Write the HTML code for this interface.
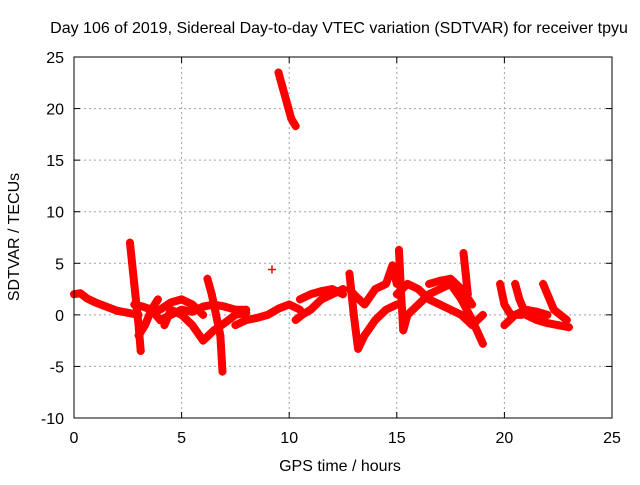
<!DOCTYPE html>
<html><head><meta charset="utf-8"><style>
body{margin:0;background:#fff;}
svg text{font-family:"Liberation Sans",sans-serif;font-size:16px;fill:#000;}
</style></head><body>
<svg id="chart" width="640" height="480">
<text x="339" y="33" text-anchor="middle">Day 106 of 2019, Sidereal Day-to-day VTEC variation (SDTVAR) for receiver tpyu</text>
<text x="340" y="471" text-anchor="middle">GPS time / hours</text>
<text transform="translate(19,237) rotate(-90)" text-anchor="middle">SDTVAR / TECUs</text>
<g id="grid"></g><g id="marks"></g><g id="axes"></g>
</svg>
<script>
const xTicks=[0,5,10,15,20,25];
const yTicks=[-10,-5,0,5,10,15,20,25];
const tracks=[
[[0,2],[0.3,2.1],[0.6,1.6],[1,1.2],[1.5,0.8],[2,0.4],[2.5,0.2],[3,0]],
[[2.6,7],[2.7,5],[2.8,3],[2.9,1],[3,-1],[3.1,-3.5]],
[[3,-2],[3.3,-1],[3.6,0.5],[3.9,1.5]],
[[2.8,1],[3.2,0.8],[3.6,0.5],[4,-0.5],[4.5,0],[5,0.5],[5.5,0.3],[6,0.8],[6.5,1],[7,0.8],[7.5,0.5],[8,0.5]],
[[4.2,-1],[4.5,0.5],[5,0],[5.5,-1],[6,-2.5],[6.5,-1.5],[7,-0.8],[7.5,0],[8,0.2]],
[[6.2,3.5],[6.4,2],[6.6,0],[6.8,-2],[6.9,-5.5]],
[[4,0.5],[4.5,1.2],[5,1.5],[5.5,1],[6,0]],
[[7.5,-1],[8,-0.5],[8.5,-0.3],[9,0],[9.5,0.6],[10,1],[10.5,0.5]],
[[9.5,23.5],[9.7,22],[9.9,20.5],[10.1,19],[10.3,18.3]],
[[9.2,4.4]],
[[10.3,-0.5],[10.6,0],[11,0.5],[11.5,1.5],[12,2],[12.5,2.5]],
[[10.5,1.5],[11,2],[11.5,2.3],[12,2.5],[12.5,2]],
[[12.8,4],[13,0],[13.2,-3.3],[13.5,-2],[14,-0.5],[14.5,0.5],[15,1]],
[[12.8,2.5],[13,2],[13.5,1],[14,2.5],[14.5,3],[14.8,4.8],[15,3]],
[[15.1,6.3],[15.2,2],[15.3,-1.5],[15.5,0],[16,1],[16.5,2],[17,2.5],[17.5,3],[18,1.5],[18.5,-0.5],[19,-2.8]],
[[15,2],[15.5,3],[16,2.5],[16.5,1.5],[17,1],[17.5,0.5],[18,0],[18.5,-1],[19,0]],
[[16.5,3],[17,3.3],[17.5,3.5],[18,2.5],[18.5,1]],
[[18.1,6],[18.2,4],[18.3,2]],
[[19.8,3],[20,1],[20.3,0],[20.8,0]],
[[20.5,3],[20.7,1.5],[21,0],[21.5,-0.5],[22,-0.8],[22.5,-1],[23,-1.2]],
[[21.8,3],[22,2],[22.3,0.5],[22.6,0],[22.9,-0.5]],
[[20,-1],[20.5,0],[21,0.5],[21.5,0.3],[22,0]]
];
const X0=74,X1=612,Y0=418,Y1=57;
const sx=v=>X0+(v-0)/(25-0)*(X1-X0);
const sy=v=>Y0-(v+10)/(35)*(Y0-Y1);
const NS="http://www.w3.org/2000/svg";
function mk(t,a,p){const e=document.createElementNS(NS,t);for(const k in a)e.setAttribute(k,a[k]);p.appendChild(e);return e;}
const grid=document.getElementById('grid'),axes=document.getElementById('axes'),marks=document.getElementById('marks');
xTicks.forEach(t=>{const x=sx(t);
 if(t>0&&t<25){const l=mk('line',{x1:x,x2:x,y1:Y1,y2:Y0,stroke:'#a0a0a0','stroke-dasharray':'2,3'},grid);
 }
 mk('line',{x1:x,x2:x,y1:Y0,y2:Y0-6,stroke:'#000'},axes);mk('line',{x1:x,x2:x,y1:Y1,y2:Y1+6,stroke:'#000'},axes);
 const tx=mk('text',{x:x,y:Y0+25,'text-anchor':'middle'},axes);tx.textContent=t;
 });
yTicks.forEach(t=>{const y=sy(t);
 if(t>-10&&t<25){const l=mk('line',{x1:X0,x2:X1,y1:y,y2:y,stroke:'#a0a0a0','stroke-dasharray':'2,3'},grid);
 }
 mk('line',{x1:X0,x2:X0+6,y1:y,y2:y,stroke:'#000'},axes);mk('line',{x1:X1,x2:X1-6,y1:y,y2:y,stroke:'#000'},axes);
 const tx=mk('text',{x:X0-10,y:y+6,'text-anchor':'end'},axes);tx.textContent=t;
 });
const box=mk('rect',{x:X0,y:Y1,width:X1-X0,height:Y0-Y1,fill:'none',stroke:'#000'},axes);

tracks.forEach(tr=>{
 if(tr.length>1){const pl=mk('polyline',{points:tr.map(p=>sx(p[0])+','+sy(p[1])).join(' '),fill:'none',stroke:'#ff0000','stroke-width':8,'stroke-linejoin':'round','stroke-linecap':'round'},marks);
 }
 tr.forEach(p=>{const x=sx(p[0]),y=sy(p[1]);
  const m=mk('path',{d:`M${x-4},${y}H${x+4}M${x},${y-4}V${y+4}`,stroke:'#ff0000','stroke-width':1.5},marks);
  });
});
</script>
</body></html>
